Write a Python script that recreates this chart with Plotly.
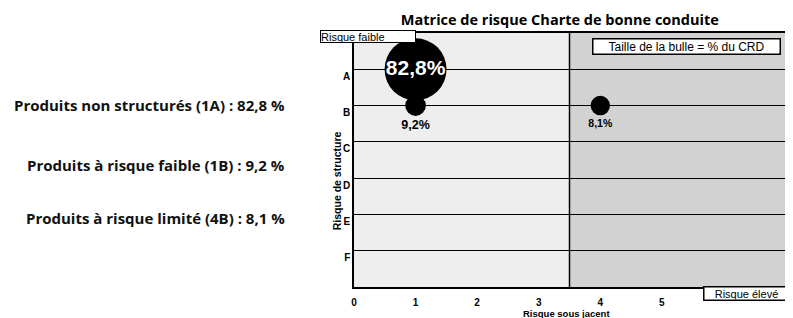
import plotly.graph_objects as go

# ---- data ----
product_names = ["Produits non structurés", "Produits à risque faible", "Produits à risque limité"]
product_codes = ["1A", "1B", "4B"]
risk_underlying = [1, 1, 4]          # x : Risque sous jacent
risk_structure = ["A", "B", "B"]     # y : Risque de structure
share_pct = [82.8, 9.2, 8.1]         # % du CRD

x_ticks = [0, 1, 2, 3, 4, 5]
structure_levels = ["A", "B", "C", "D", "E", "F"]
x_split = 3.5
x_max = 7
y_max = 7

# map letters to numeric levels (A top)
level_val = {lab: len(structure_levels) - i for i, lab in enumerate(structure_levels)}
y_vals = [level_val[s] for s in risk_structure]

def fr(v):
    return f"{v:.1f}".replace(".", ",")

FONT = "Liberation Sans, Arial, sans-serif"
WIDE = "Open Sans, Liberation Sans, sans-serif"

fig = go.Figure()

max_diam = 62
fig.add_trace(go.Scatter(
    x=risk_underlying, y=y_vals,
    mode="markers+text",
    text=[fr(v) + "%" for v in share_pct],
    textposition=["middle center", "bottom center", "bottom center"],
    textfont=dict(family=FONT, size=[21, 12.5, 10.5], color=["white", "black", "black"], weight="bold"),
    marker=dict(size=share_pct, sizemode="area", sizeref=2 * max(share_pct) / max_diam ** 2,
                color="#000000", opacity=1, line=dict(width=0)),
    hoverinfo="skip", showlegend=False, cliponaxis=False,
))

# background zones
shapes = [
    dict(type="rect", xref="x", yref="y", x0=0, x1=x_split, y0=0, y1=y_max,
         fillcolor="#eeeeee", line=dict(width=0), layer="below"),
    dict(type="rect", xref="x", yref="y", x0=x_split, x1=x_max, y0=0, y1=y_max,
         fillcolor="#d2d2d2", line=dict(width=0), layer="below"),
    dict(type="line", xref="x", yref="y", x0=x_split, x1=x_split, y0=0, y1=y_max,
         line=dict(color="black", width=1.5), layer="below"),
]

annotations = []
# left descriptions
desc_y = [0.716, 0.480, 0.271]
for name, code, v, yy in zip(product_names, product_codes, share_pct, desc_y):
    annotations.append(dict(
        xref="paper", yref="paper", x=-0.155, y=yy, xanchor="right", yanchor="middle",
        text=f"<b>{name} ({code}) : {fr(v)} %</b>", showarrow=False,
        font=dict(family=WIDE, size=15, color="#111")))

annotations += [
    dict(xref="paper", yref="paper", x=-0.079, y=0.987, xanchor="left", yanchor="middle",
         text="Risque faible", showarrow=False, width=94, height=11, align="left",
         font=dict(family=FONT, size=11, color="black"),
         bgcolor="white", bordercolor="black", borderwidth=1, borderpad=0),
    dict(xref="paper", yref="paper", x=0.810, y=-0.0275, xanchor="left", yanchor="middle",
         text="Risque élevé", showarrow=False, width=84, height=12, align="center",
         font=dict(family=FONT, size=11, color="black"),
         bgcolor="white", bordercolor="black", borderwidth=1.5, borderpad=0),
    dict(xref="paper", yref="paper", x=0.552, y=0.946, xanchor="left", yanchor="middle",
         text="Taille de la bulle = % du CRD", showarrow=False, width=186, height=14, align="center",
         font=dict(family=FONT, size=12, color="black"),
         bgcolor="white", bordercolor="black", borderwidth=1.5, borderpad=0),
    # x axis title (kept inside the page)
    dict(xref="paper", yref="paper", x=0.494, y=-0.104, xanchor="center", yanchor="middle",
         text="<b>Risque sous jacent</b>", showarrow=False,
         font=dict(family=FONT, size=9.5, color="black")),
    # y axis title
    dict(xref="paper", yref="paper", x=-0.039, y=0.417, xanchor="center", yanchor="middle",
         text="<b>Risque de structure</b>", showarrow=False, textangle=-90,
         font=dict(family=FONT, size=10.5, color="black")),
]

# page body has an 8px margin: figure is 785x310 drawn at (8, 8)
fig.update_layout(
    width=785, height=310,
    margin=dict(l=346, r=8, t=24.7, b=31, autoexpand=False),
    paper_bgcolor="white", plot_bgcolor="white",
    font=dict(family=FONT, color="black"),
    title=dict(text="<b>Matrice de risque Charte de bonne conduite</b>",
               x=0.703, xanchor="center", y=0.962, yanchor="middle",
               yref="container", automargin=False,
               font=dict(family=WIDE, size=14.5, color="black")),
    shapes=shapes, annotations=annotations,
    xaxis=dict(range=[0, x_max], tickvals=x_ticks, ticktext=[str(t) for t in x_ticks],
               showgrid=False, zeroline=False, showline=True, mirror=True, automargin=False,
               linecolor="black", linewidth=1.5, ticks="", ticklabelstandoff=5,
               tickfont=dict(family=FONT, size=10, color="black", weight="bold")),
    yaxis=dict(range=[0, y_max], tickvals=[level_val[s] for s in structure_levels],
               ticktext=structure_levels, ticklabelshift=7, automargin=False,
               showgrid=True, gridcolor="black", gridwidth=1.2, zeroline=False,
               showline=True, mirror=True, linecolor="black", linewidth=1.5, ticks="",
               tickfont=dict(family=FONT, size=10, color="black", weight="bold")),
)

fig.write_html("out.html")
